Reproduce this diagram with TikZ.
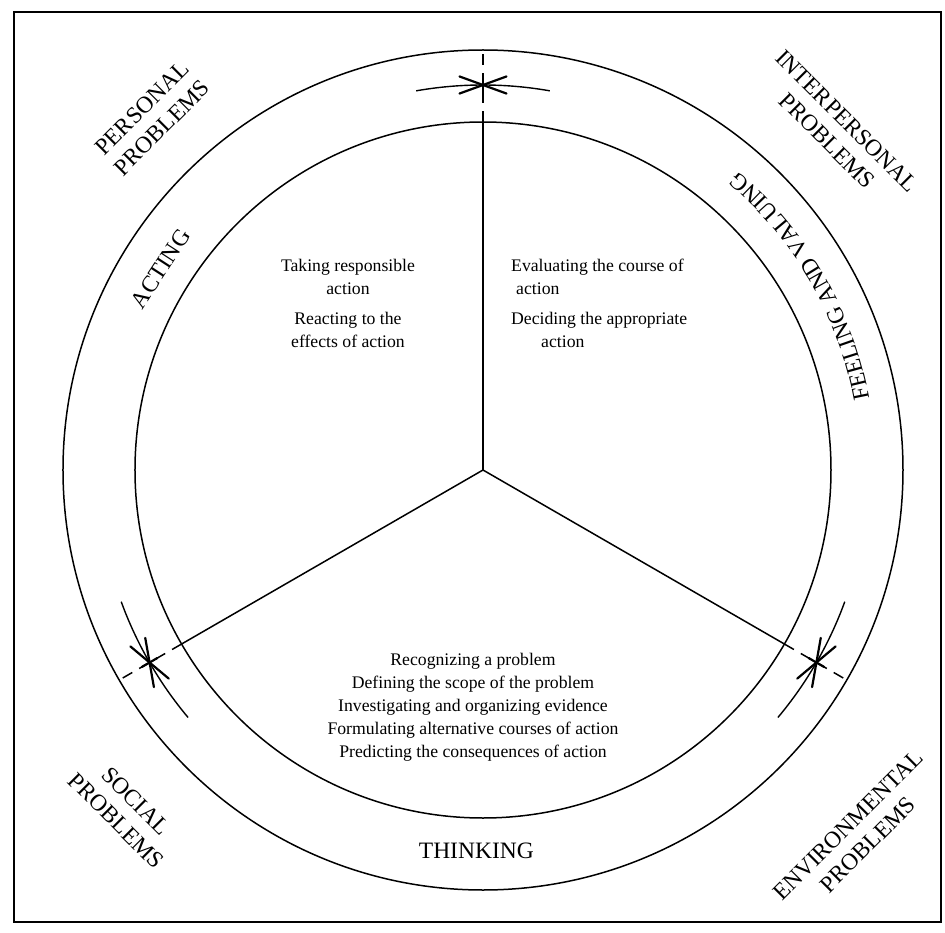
\documentclass[tikz,border=0pt]{standalone}
\usepackage{fontspec}
\setmainfont{Liberation Serif}
\usetikzlibrary{decorations.text}

\newcommand{\bodyfont}{\fontsize{17.7}{23}\selectfont}
\newcommand{\capsfont}{\fontsize{23.5}{28}\selectfont}

\begin{document}
\begin{tikzpicture}[x=1pt, y=1pt,
    ring/.style={line width=1.5pt},
    spoke/.style={line width=1.5pt},
    gap-dash/.style={line width=1.5pt, dash pattern=on 11pt off 8pt},
    tick-arc/.style={line width=1.4pt},
    star-stroke/.style={line width=2.2pt, line cap=round},
    sector-text/.style={font=\bodyfont, align=center, inner sep=0pt},
    ring-label/.style={font=\capsfont, inner sep=0pt},
    corner-label/.style={font=\capsfont, align=center, inner sep=0pt}]

  \useasboundingbox (-483,-462) rectangle (462,470);
  \draw[line width=1.2pt] (-469,458) rectangle (458,-452);

  % the two rings
  \coordinate (hub) at (0,0);
  \draw[ring] (hub) circle[radius=420];
  \draw[ring] (hub) circle[radius=348];

  % spokes, with the crossed tick marks in the ring
  \foreach \a in {90,210,330}{
    \draw[spoke] (hub) -- (\a:348);
    \draw[gap-dash] (\a:348) -- (\a:420);
    \draw[tick-arc] (\a-10:385) arc[start angle=\a-10, end angle=\a+10, radius=385];
    \begin{scope}[shift={(\a:385)}]
      \draw[star-stroke] (\a+110:25) -- (\a-70:25);
      \draw[star-stroke] (\a+70:25) -- (\a-110:25);
      \draw[star-stroke] (\a:9) -- (\a+180:9);
    \end{scope}
  }

  % sector texts
  \node[sector-text] (acting-text) at (-135,167)
    {Taking responsible\\action\\[7pt]Reacting to the\\effects of action};
  \node[sector-text, align=left, anchor=west] (feeling-text) at (28,167)
    {Evaluating the course of\\\hspace*{5pt}action\\[7pt]Deciding the appropriate\\\hspace*{30pt}action};
  \node[sector-text] (thinking-text) at (-10,-237)
    {Recognizing a problem\\Defining the scope of the problem\\Investigating and organizing evidence\\Formulating alternative courses of action\\Predicting the consequences of action};

  % ring labels
  \node[ring-label, rotate=57] (acting) at (148:380) {ACTING};
  \node[ring-label] (thinking) at (269:381) {THINKING};
  \path[decorate, decoration={text along path, text align=center,
      text={|\capsfont|FEELING AND VALUING}}]
    (0:393) arc[start angle=0, end angle=60, radius=393];

  % corner labels
  \node[corner-label, rotate=45] (personal) at (-331,352) {PERSONAL\\PROBLEMS};
  \node[corner-label, rotate=-45] (interpersonal) at (354,339) {INTERPERSONAL\\PROBLEMS};
  \node[corner-label, rotate=-45] (social) at (-357,-341) {SOCIAL\\PROBLEMS};
  \node[corner-label, rotate=45] (environmental) at (375,-365) {ENVIRONMENTAL\\PROBLEMS};
\end{tikzpicture}
\end{document}
